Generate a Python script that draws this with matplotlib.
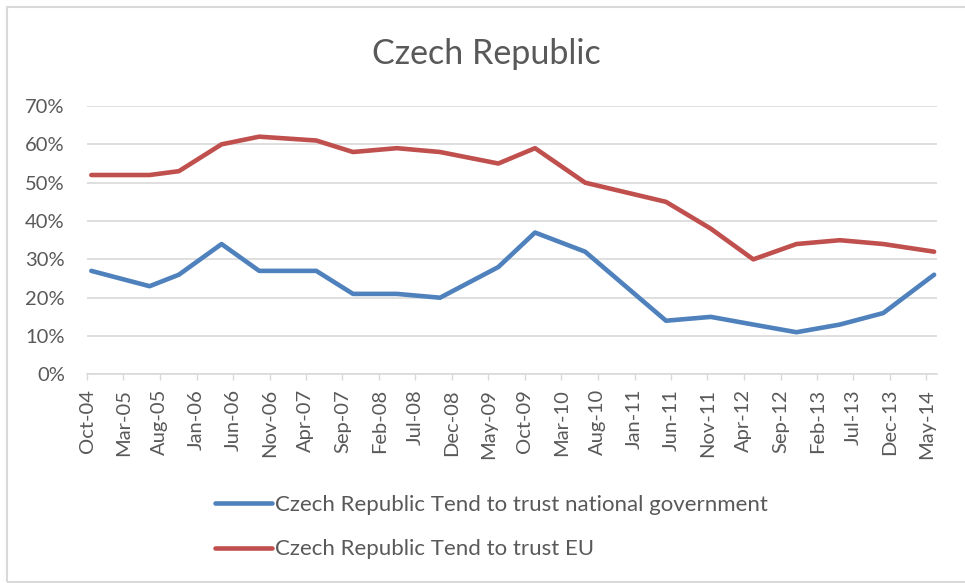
import matplotlib
matplotlib.use("Agg")
import matplotlib.pyplot as plt
from matplotlib.patches import Rectangle
import pandas as pd

plt.rcParams['font.family'] = ['Lato', 'DejaVu Sans']

# survey dates
survey_dates = ["2004-10-19", "2005-06-19", "2005-10-19", "2006-04-15", "2006-09-19",
                "2007-05-15", "2007-10-15", "2008-04-15", "2008-10-12", "2009-06-12",
                "2009-11-12", "2010-06-09", "2011-05-12", "2011-11-15", "2012-05-10",
                "2012-11-06", "2013-05-06", "2013-11-03", "2014-06-03"]

trust_gov = [27, 23, 26, 34, 27, 27, 21, 21, 20, 28, 37, 32, 14, 15, 13, 11, 13, 16, 26]
trust_eu = [52, 52, 53, 60, 62, 61, 58, 59, 58, 55, 59, 50, 45, 38, 30, 34, 35, 34, 32]

label_gov = "Czech Republic Tend to trust national government"
label_eu = "Czech Republic Tend to trust EU"
title = "Czech Republic"

BLUE = "#4F81BD"
RED = "#C0504D"
GRID = "#D9D9D9"
TXT = "#595959"

W, H = 965, 583
dates = pd.to_datetime(survey_dates)

fig = plt.figure(figsize=(W / 100, H / 100), dpi=100)
ax = fig.add_axes([87 / W, (H - 374.4) / H, 850 / W, 268.4 / H])

line_gov, = ax.plot(dates, [v / 100 for v in trust_gov], color=BLUE, lw=3.3,
                    solid_capstyle='round', solid_joinstyle='round', label=label_gov)
line_eu, = ax.plot(dates, [v / 100 for v in trust_eu], color=RED, lw=3.3,
                   solid_capstyle='round', solid_joinstyle='round', label=label_eu)

# axes
ax.set_ylim(0, 0.7)
ax.set_yticks([i / 10 for i in range(8)])
ax.set_yticklabels(["{}%".format(i * 10) for i in range(8)])
ax.yaxis.grid(True, color=GRID, lw=1.2)
ax.set_axisbelow(True)

ticks = pd.date_range(start="2004-10-01", end="2014-06-01", freq="5MS")
ax.set_xticks(ticks)
ax.set_xticklabels([t.strftime("%b-%y") for t in ticks], rotation=90)
ax.set_xlim(pd.Timestamp("2004-10-01"), dates[-1] + pd.Timedelta(days=12))

for s in ["top", "right", "left"]:
    ax.spines[s].set_visible(False)
ax.spines["bottom"].set_color(GRID)
ax.spines["bottom"].set_linewidth(1.2)

ax.tick_params(axis='y', length=0, pad=16, labelsize=14.5, labelcolor=TXT)
ax.tick_params(axis='x', length=4.5, width=1, color=GRID, pad=6, labelsize=14.5, labelcolor=TXT)

fig.text(486.5 / W, (H - 64) / H, title, ha='center', va='baseline', fontsize=24.5, color=TXT)

fig.legend(handles=[line_gov, line_eu], loc='upper left',
           bbox_to_anchor=(215 / W, (H - 495) / H), frameon=False,
           fontsize=16, labelcolor=TXT, handlelength=2.55, handletextpad=0.14,
           borderpad=0, borderaxespad=0, labelspacing=1.1)

# chart area border
fig.patches.append(Rectangle((7 / W, 1 / H), 1.2, (H - 8) / H, transform=fig.transFigure,
                             fill=False, edgecolor=GRID, lw=1.5))

fig.savefig("out.png", dpi=100)
